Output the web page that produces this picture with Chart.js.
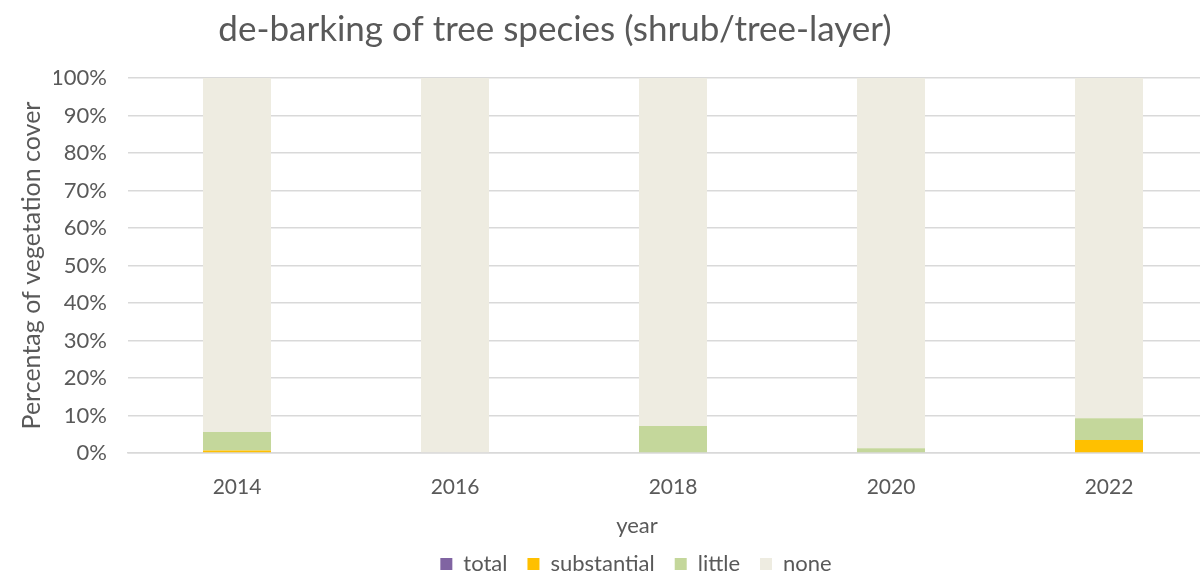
<!DOCTYPE html>
<html>
<head>
<meta charset="utf-8">
<script src="https://cdn.jsdelivr.net/npm/chart.js@4"></script>
<style>
  html, body { margin:0; padding:0; background:#fff; overflow:hidden; }
  #wrap { width:1272px; height:577px; }
</style>
</head>
<body>
<div id="wrap"><canvas id="chart" width="1272" height="577"></canvas></div>
<script>
// values (% of vegetation cover)
const years = ['2014', '2016', '2018', '2020', '2022'];
const total = [0, 0, 0, 0, 0];
const substantial = [0.7, 0, 0, 0.2, 3.5];
const little = [4.9, 0, 7.2, 1.1, 5.8];
const none = [94.4, 100, 92.8, 98.7, 90.7];

const FONT = 'Lato, "Open Sans", sans-serif';
const GREY = '#595959';

// chart title and "year" sit left of centre in the original, so draw them ourselves
const textPlugin = {
  id: 'offTexts',
  afterDraw(chart){
    const c = chart.ctx;
    c.save();
    c.fillStyle = GREY;
    c.textAlign = 'center';
    c.textBaseline = 'middle';
    c.font = '35px ' + FONT;
    c.fillText('de-barking of tree species (shrub/tree-layer)', 555, 30);
    c.font = '22px ' + FONT;
    c.fillText('year', 637, chart.scales.x.bottom - 7);
    c.restore();
  }
};

new Chart(document.getElementById('chart'), {
  type: 'bar',
  data: {
    labels: years,
    datasets: [
      { label:'total', data: total, backgroundColor:'#8064A2' },
      { label:'substantial', data: substantial, backgroundColor:'#FFC000' },
      { label:'little', data: little, backgroundColor:'#C4D79B' },
      { label:'none', data: none, backgroundColor:'#EEECE1' }
    ]
  },
  options: {
    responsive: false,
    animation: false,
    datasets: { bar: { barPercentage: 1, categoryPercentage: 0.312 } },
    layout: { padding: { top: 78, left: 54, right: 54, bottom: -8 } },
    scales: {
      x: {
        stacked: true,
        afterFit(scale){ scale.height = 80; },
        grid: { display: false, drawTicks: false },
        border: { color: '#D9D9D9', width: 1.5 },
        ticks: { color: GREY, font: { family: FONT, size: 21, lineHeight: 1 }, padding: 24 }
      },
      y: {
        stacked: true,
        min: 0, max: 100,
        afterFit(scale){ scale.width = 74; },
        grid: { color: '#D9D9D9', lineWidth: 1.5, drawTicks: false },
        border: { display: false },
        ticks: { stepSize: 10, color: GREY, font: { family: FONT, size: 22 }, padding: 21,
                 callback: v => v + '%' },
        title: { display: true, text: 'Percentag of vegetation cover', color: GREY,
                 font: { family: FONT, size: 25, lineHeight: 1.2 }, padding: { top: -37, bottom: 0 } }
      }
    },
    plugins: {
      legend: {
        position: 'bottom',
        labels: { color: GREY, font: { family: FONT, size: 22 }, boxWidth: 12, boxHeight: 12, padding: 20 }
      },
      tooltip: { enabled: false }
    }
  },
  plugins: [textPlugin]
});
</script>
</body>
</html>
